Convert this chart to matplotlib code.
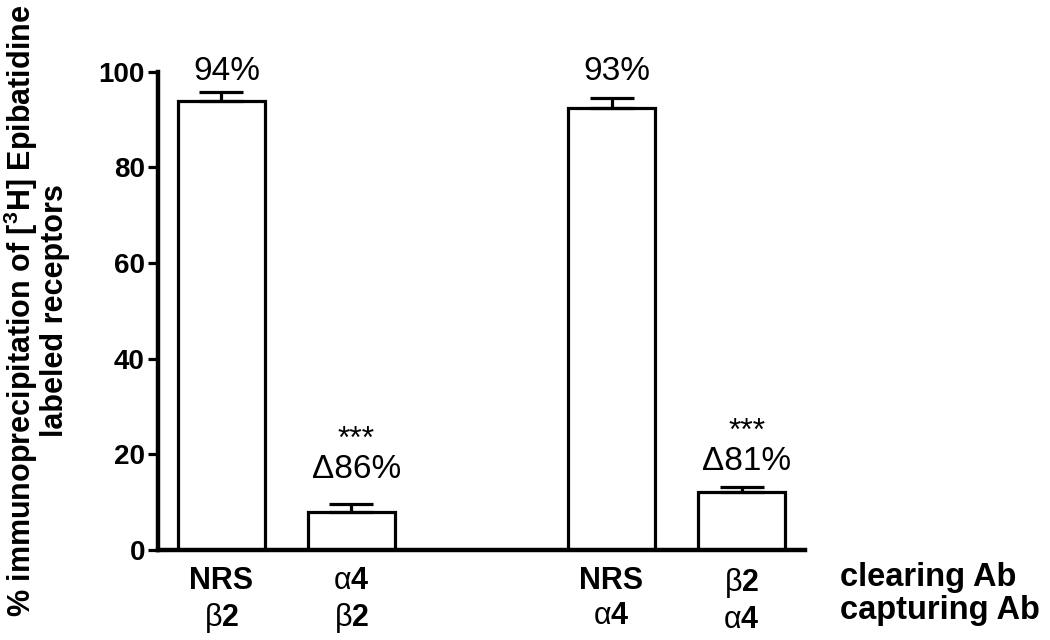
import matplotlib
matplotlib.use("Agg")
import matplotlib.pyplot as plt

plt.rcParams.update({
    "font.family": "Liberation Sans",
    "mathtext.fontset": "custom",
    "mathtext.rm": "Liberation Sans",
    "mathtext.bf": "Liberation Sans:bold",
    "mathtext.it": "Liberation Sans:italic",
})

# Data
positions = [0, 1, 3, 4]
values = [93.8, 7.8, 92.3, 12.1]
errors = [1.9, 1.7, 2.1, 1.0]
clearing = ["NRS", r"$\mathrm{\alpha}\mathbf{4}$", "NRS", r"$\mathrm{\beta}\mathbf{2}$"]
capturing = [r"$\mathrm{\beta}\mathbf{2}$", r"$\mathrm{\beta}\mathbf{2}$",
             r"$\mathrm{\alpha}\mathbf{4}$", r"$\mathrm{\alpha}\mathbf{4}$"]
pct_labels = ["94%", "\u039486%", "93%", "\u039481%"]
stars = ["", "***", "", "***"]

# label heights (data units)
pct_y = [100.0, 16.7, 100.0, 18.4]
star_y = [None, 23.0, None, 24.7]

LW = 2.3
fig = plt.figure(figsize=(10.5, 6.4), dpi=100)
ax = fig.add_axes([0.150, 0.141, 0.617, 0.747])

ax.bar(positions, values, width=0.67, color="white", edgecolor="black",
       linewidth=LW, zorder=2)
ax.errorbar(positions, values, yerr=[[0] * len(errors), errors], fmt="none",
            ecolor="black", elinewidth=LW, capsize=16, capthick=LW, zorder=3)

for x, t, y in zip(positions, pct_labels, pct_y):
    ax.text(x + 0.04, y, t, ha="center", va="center", fontsize=24, clip_on=False)
for x, t, y in zip(positions, stars, star_y):
    if t:
        ax.text(x + 0.04, y, t, ha="center", va="center", fontsize=23, clip_on=False)

ax.set_xlim(-0.49, 4.49)
ax.set_ylim(0, 100)
ax.set_yticks([0, 20, 40, 60, 80, 100])
ax.tick_params(axis="y", length=7, width=LW, labelsize=20, pad=2)
for lbl in ax.get_yticklabels():
    lbl.set_fontweight("bold")

ax.set_xticks(positions)
ax.set_xticklabels([f"{c}\n{p}" for c, p in zip(clearing, capturing)],
                   fontsize=22, fontweight="bold", linespacing=1.2)
ax.tick_params(axis="x", length=0, pad=12)

for s in ["top", "right"]:
    ax.spines[s].set_visible(False)
for s in ["left", "bottom"]:
    ax.spines[s].set_linewidth(3.2)

fig.text(0.034, 0.514,
         "% immunoprecipitation of [$^{\\mathbf{3}}$H] Epibatidine\nlabeled receptors",
         fontsize=22, fontweight="bold", rotation=90, ha="center", va="center",
         linespacing=1.0, multialignment="center")

fig.text(0.80, 0.097, "clearing Ab", fontsize=23.5, fontweight="bold", va="center")
fig.text(0.80, 0.046, "capturing Ab", fontsize=23.5, fontweight="bold", va="center")

fig.savefig("out.png", dpi=100)
